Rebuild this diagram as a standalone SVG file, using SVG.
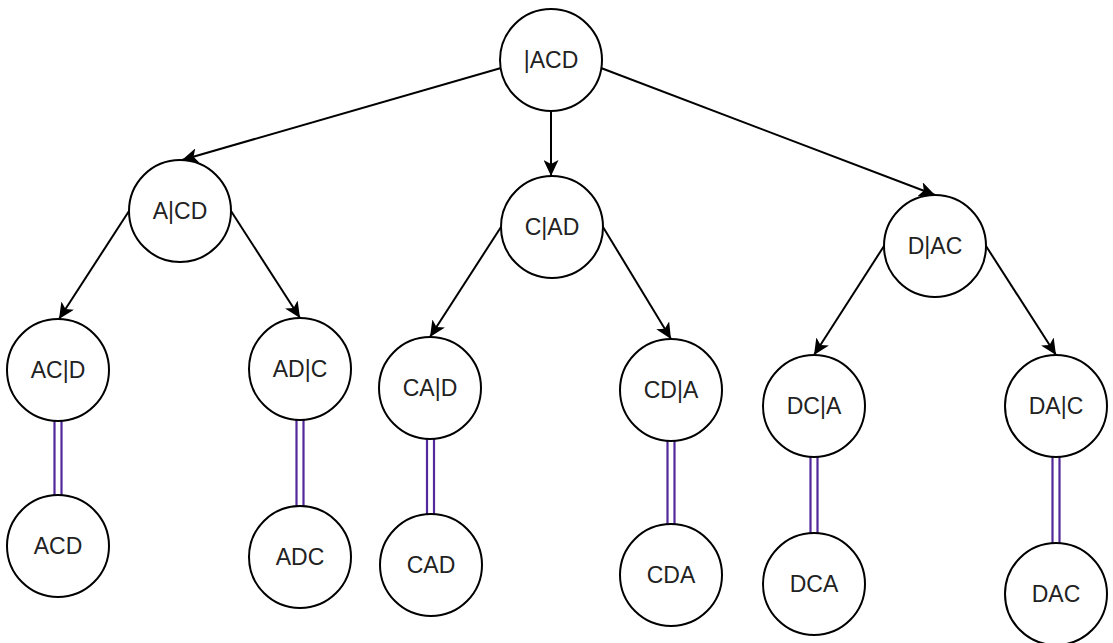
<svg xmlns="http://www.w3.org/2000/svg" width="1113" height="643" viewBox="0 0 1113 643">
<style>
.node circle{fill:#fff;stroke:#000;stroke-width:2}
.node text{font-family:"Liberation Sans",Arial,sans-serif;font-size:23px;fill:#222;text-anchor:middle}
.edge{stroke:#000;stroke-width:2;fill:none;marker-end:url(#arr)}
.link{stroke:#52289a;stroke-width:2.2;fill:none}
</style>
<defs>
<marker id="arr" markerUnits="userSpaceOnUse" viewBox="0 0 16 15" refX="16" refY="7.5" markerWidth="16" markerHeight="15" orient="auto">
<path d="M16,7.5 L0,0 L4,7.5 L0,15 Z" fill="#000"/>
</marker>
</defs>
<rect width="1113" height="643" fill="#fff"/>
<g id="connectors">
<line class="edge" x1="501" y1="68" x2="182" y2="160"/>
<line class="edge" x1="551" y1="112" x2="551" y2="176"/>
<line class="edge" x1="601" y1="68" x2="935" y2="195"/>
<line class="edge" x1="129" y1="211" x2="59" y2="319"/>
<line class="edge" x1="231" y1="211" x2="300" y2="318"/>
<line class="edge" x1="501" y1="227" x2="430" y2="337"/>
<line class="edge" x1="603" y1="227" x2="671" y2="339"/>
<line class="edge" x1="884" y1="246" x2="814" y2="355"/>
<line class="edge" x1="986" y1="246" x2="1056" y2="355"/>
<path class="link" d="M54.5,421V495M61.5,421V495"/>
<path class="link" d="M296.5,420V506M303.5,420V506"/>
<path class="link" d="M427,439V514M434,439V514"/>
<path class="link" d="M667.5,441V524M674.5,441V524"/>
<path class="link" d="M810.5,457V533M817.5,457V533"/>
<path class="link" d="M1052.5,457V543M1059.5,457V543"/>
</g>
<g id="n_root" class="node"><circle cx="551" cy="60" r="51"/><text x="551" y="68">|ACD</text></g>
<g id="n_A_CD" class="node"><circle cx="180" cy="211" r="51"/><text x="180" y="219">A|CD</text></g>
<g id="n_C_AD" class="node"><circle cx="552" cy="227" r="51"/><text x="552" y="235">C|AD</text></g>
<g id="n_D_AC" class="node"><circle cx="935" cy="246" r="51"/><text x="935" y="254">D|AC</text></g>
<g id="n_AC_D" class="node"><circle cx="58" cy="370" r="51"/><text x="58" y="378">AC|D</text></g>
<g id="n_AD_C" class="node"><circle cx="300" cy="369" r="51"/><text x="300" y="377">AD|C</text></g>
<g id="n_CA_D" class="node"><circle cx="430" cy="388" r="51"/><text x="430" y="396">CA|D</text></g>
<g id="n_CD_A" class="node"><circle cx="671" cy="390" r="51"/><text x="671" y="398">CD|A</text></g>
<g id="n_DC_A" class="node"><circle cx="814" cy="406" r="51"/><text x="814" y="414">DC|A</text></g>
<g id="n_DA_C" class="node"><circle cx="1056" cy="406" r="51"/><text x="1056" y="414">DA|C</text></g>
<g id="n_ACD" class="node"><circle cx="58" cy="546" r="51"/><text x="58" y="554">ACD</text></g>
<g id="n_ADC" class="node"><circle cx="300" cy="557" r="51"/><text x="300" y="565">ADC</text></g>
<g id="n_CAD" class="node"><circle cx="431" cy="565" r="51"/><text x="431" y="573">CAD</text></g>
<g id="n_CDA" class="node"><circle cx="671" cy="575" r="51"/><text x="671" y="583">CDA</text></g>
<g id="n_DCA" class="node"><circle cx="814" cy="584" r="51"/><text x="814" y="592">DCA</text></g>
<g id="n_DAC" class="node"><circle cx="1056" cy="594" r="51"/><text x="1056" y="602">DAC</text></g>
</svg>
